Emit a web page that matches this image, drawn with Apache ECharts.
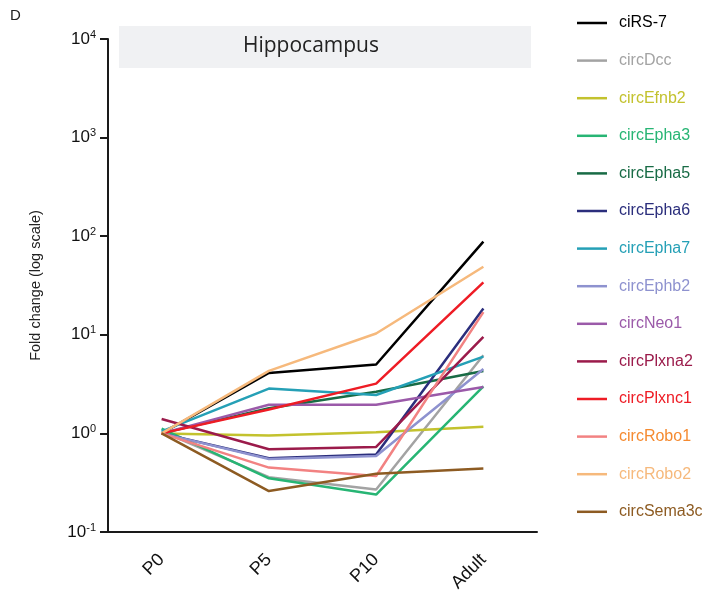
<!DOCTYPE html>
<html>
<head>
<meta charset="utf-8">
<script src="https://cdn.jsdelivr.net/npm/echarts@6/dist/echarts.min.js"></script>
<style>
  html, body { margin: 0; padding: 0; background: #fff; }
  #chart { width: 714px; height: 604px; }
</style>
</head>
<body>
<div id="chart"></div>
<script>
// --- data ---
const categories = ['P0', 'P5', 'P10', 'Adult']

const ciRS7      = [1.0, 4.1, 5.0, 88]
const circDcc    = [1.05, 0.36, 0.27, 6.2]
const circEfnb2  = [1.0, 0.95, 1.03, 1.17]
const circEpha3  = [1.12, 0.35, 0.24, 3.0]
const circEpha5  = [1.0, 1.8, 2.65, 4.3]
const circEpha6  = [1.0, 0.56, 0.61, 18.5]
const circEpha7  = [1.05, 2.85, 2.45, 6.0]
const circEphb2  = [1.0, 0.55, 0.59, 4.5]
const circNeo1   = [1.0, 1.95, 1.95, 2.95]
const circPlxna2 = [1.4, 0.69, 0.73, 9.5]
const circPlxnc1 = [1.0, 1.75, 3.2, 34]
const circRobo1  = [1.0, 0.45, 0.37, 17]
const circRobo2  = [1.0, 4.3, 10.3, 49]
const circSema3c = [1.0, 0.26, 0.39, 0.44]

// name, values, line colour, legend text colour
const seriesList = [
  ['ciRS-7', ciRS7, '#000000', '#000000'],
  ['circDcc', circDcc, '#a3a3a3', '#a3a3a3'],
  ['circEfnb2', circEfnb2, '#c3c22e', '#c3c22e'],
  ['circEpha3', circEpha3, '#27b574', '#27b574'],
  ['circEpha5', circEpha5, '#186b45', '#186b45'],
  ['circEpha6', circEpha6, '#2b2e7c', '#2b2e7c'],
  ['circEpha7', circEpha7, '#25a0b6', '#25a0b6'],
  ['circEphb2', circEphb2, '#8e92cf', '#8e92cf'],
  ['circNeo1', circNeo1, '#9b5aa9', '#9b5aa9'],
  ['circPlxna2', circPlxna2, '#9b1b4b', '#9b1b4b'],
  ['circPlxnc1', circPlxnc1, '#ee1c25', '#ee1c25'],
  ['circRobo1', circRobo1, '#f28282', '#f58a30'],
  ['circRobo2', circRobo2, '#f6b97c', '#f6b97c'],
  ['circSema3c', circSema3c, '#8d5b22', '#8d5b22']
]

const FONT = '"Liberation Sans", Arial, Helvetica, sans-serif'
const AXIS_COLOR = '#1a1a1a'

const chart = echarts.init(document.getElementById('chart'), null, {renderer: 'canvas'})

const option = {
  animation: false,
  textStyle: {fontFamily: FONT},
  grid: {left: 108, right: 177, top: 39, bottom: 72},
  graphic: [
    // panel letter
    {type: 'text', left: 10, top: 8, style: {text: 'D', fontSize: 15, fill: '#222', fontFamily: FONT}},
    // grey header strip with tissue name
    {type: 'rect', left: 119, top: 26, shape: {width: 412, height: 42}, style: {fill: '#f0f1f3'}, z: 0},
    {type: 'text', x: 311, y: 46, style: {text: 'Hippocampus', fontSize: 21, fill: '#222', align: 'center', verticalAlign: 'middle', fontFamily: '"Open Sans", sans-serif'}, z: 1}
  ],
  legend: {
    orient: 'vertical',
    left: 572,
    top: 10,
    itemWidth: 30,
    itemHeight: 14,
    itemGap: 21.6,
    icon: 'path://M0,6 L30,6 L30,8.5 L0,8.5 Z',
    data: seriesList.map(s => ({name: s[0], textStyle: {color: s[3]}})),
    textStyle: {fontSize: 16, fontFamily: FONT, padding: [0, 0, 0, 7]}
  },
  xAxis: {
    type: 'category',
    data: categories,
    boundaryGap: true,
    axisLine: {lineStyle: {color: AXIS_COLOR, width: 2}},
    axisTick: {alignWithLabel: true, length: 10, lineStyle: {color: AXIS_COLOR, width: 2}},
    axisLabel: {rotate: 45, fontSize: 18, color: '#111', margin: 25, fontFamily: FONT}
  },
  yAxis: {
    type: 'log',
    logBase: 10,
    min: 0.1,
    max: 10000,
    name: 'Fold change (log scale)',
    nameLocation: 'middle',
    nameGap: 65,
    nameTextStyle: {fontSize: 14.5, color: '#222', fontFamily: FONT},
    splitLine: {show: false},
    axisLine: {show: true, lineStyle: {color: AXIS_COLOR, width: 2}},
    axisTick: {show: true, length: 8, lineStyle: {color: AXIS_COLOR, width: 2}},
    axisLabel: {
      margin: 12,
      formatter: v => '{b|10}{s|' + Math.round(Math.log10(v)) + '}',
      rich: {
        b: {fontSize: 17, color: '#111', fontFamily: FONT, lineHeight: 20},
        s: {fontSize: 11, color: '#111', fontFamily: FONT, verticalAlign: 'top', lineHeight: 12, padding: [0, 0, 6, 0]}
      }
    }
  },
  series: seriesList.map(s => ({
    name: s[0],
    type: 'line',
    data: s[1],
    symbol: 'none',
    lineStyle: {color: s[2], width: 2.5},
    itemStyle: {color: s[2]}
  }))
}

chart.setOption(option)
</script>
</body>
</html>
